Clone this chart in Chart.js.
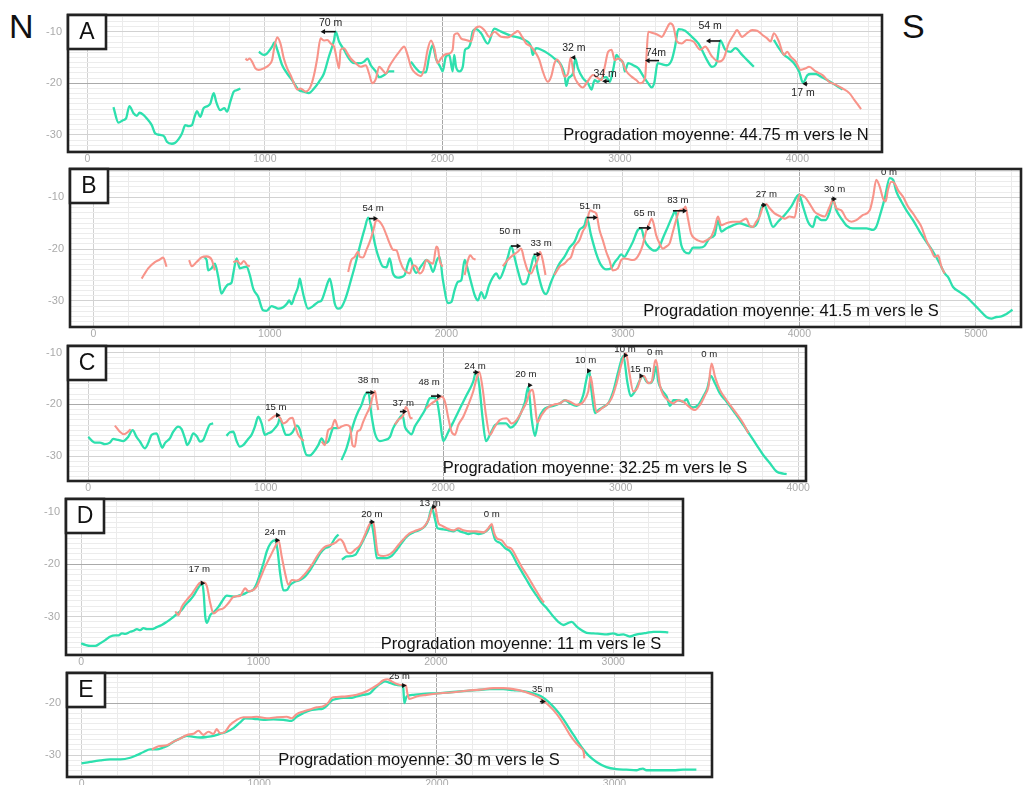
<!DOCTYPE html>
<html><head><meta charset="utf-8">
<script src="https://cdn.jsdelivr.net/npm/chart.js@4.4.1/dist/chart.umd.min.js"></script>
<style>
html,body{margin:0;padding:0;background:#fff;width:1023px;height:785px;overflow:hidden;position:relative;font-family:'Liberation Sans',Arial,sans-serif;}
canvas{position:absolute;left:0;}
.dir{position:absolute;font-size:34px;line-height:34px;color:#111;}
</style></head><body>
<div class="dir" style="left:9px;top:9px">N</div>
<div class="dir" style="left:902px;top:9px">S</div>
<script>
// ---------- DATA (x = distance m, y = depth m; null = gap) ----------
const X_GRID_STEP = 200, X_LABEL_STEP = 1000, Y_GRID_STEP = 1, Y_LABEL_STEP = 10;

const A_GREEN = [[147,-24.6],[175,-27.6],[203,-27.1],[218,-26.8],[237,-24.4],[260,-25.8],[279,-26.3],[294,-25.7],[316,-26.1],[335,-26.8],[363,-28.1],[382,-29.7],[410,-30.0],[433,-30.3],[448,-31.3],[476,-31.7],[495,-31.5],[514,-30.8],[533,-29.7],[552,-28.1],[571,-28.3],[589,-28.1],[604,-26.5],[618,-25.4],[636,-26.5],[655,-24.8],[678,-24.4],[693,-23.9],[712,-21.9],[727,-23.7],[749,-25.2],[772,-24.8],[787,-25.5],[806,-23.5],[825,-21.6],[844,-21.3],[862,-21.0],
null,[966,-13.9],[994,-14.5],[1013,-14.2],[1041,-12.9],[1054,-12.1],[1070,-13.5],[1098,-16.5],[1126,-18.1],[1154,-19.4],[1192,-21.3],[1220,-21.6],[1248,-21.9],[1277,-21.0],[1305,-19.7],[1333,-18.1],[1361,-14.8],[1390,-11.6],[1399,-10.0],[1418,-11.9],[1446,-13.5],[1474,-15.2],[1503,-16.1],[1540,-16.1],[1559,-15.8],[1578,-15.2],[1597,-16.5],[1625,-17.7],[1644,-18.8],[1672,-18.4],[1700,-17.7],[1729,-17.7],
null,[1823,-15.8],[1851,-17.1],[1879,-17.9],[1907,-17.9],[1926,-14.8],[1945,-12.6],[1964,-15.2],[1988,-16.8],[2002,-17.7],[2020,-14.8],[2039,-14.5],[2058,-17.7],[2067,-14.5],[2077,-16.8],[2096,-17.7],[2115,-16.8],[2128,-13.5],[2143,-13.2],[2158,-12.3],[2171,-10.0],[2190,-9.5],[2218,-10.3],[2256,-12.3],[2293,-9.4],[2331,-10.0],[2388,-10.8],[2444,-11.3],[2462,-11.6],[2500,-12.9],[2509,-14.5],[2528,-13.2],[2557,-13.5],[2594,-14.2],[2632,-15.2],[2670,-16.5],[2689,-18.4],[2698,-20.5],[2711,-19.0],[2736,-18.1],[2749,-15.2],[2764,-17.1],[2792,-19.0],[2821,-20.0],[2840,-21.2],[2858,-19.4],[2877,-19.7],[2900,-19.0],[2925,-18.8],[2943,-19.7],[2962,-17.4],[2981,-14.5],[3000,-15.4],[3019,-16.1],[3028,-17.7],[3047,-16.1],[3075,-16.5],[3104,-17.1],[3132,-18.6],[3160,-20.0],[3179,-20.8],[3194,-19.9],[3213,-16.1],[3236,-16.3],[3264,-16.5],[3292,-15.5],[3311,-12.9],[3330,-9.5],[3368,-9.8],[3406,-11.0],[3443,-12.3],[3462,-13.5],[3491,-15.5],[3519,-16.8],[3547,-15.8],[3566,-11.7],[3594,-13.5],[3623,-13.9],[3651,-13.2],[3689,-14.5],[3726,-15.8],[3755,-16.8],
null,[3868,-11.6],[3896,-13.2],[3925,-14.5],[3953,-15.2],[3981,-16.1],[4010,-17.7],[4032,-19.9],[4057,-18.4],[4076,-18.2],[4104,-18.2],[4132,-18.7],[4170,-19.4],[4198,-20.0],[4227,-20.6],[4255,-21.2]];

const A_RED = [[891,-15.2],[900,-15.5],[915,-15.2],[928,-15.8],[947,-17.1],[966,-17.4],[994,-17.1],[1022,-16.5],[1041,-15.5],[1054,-12.9],[1070,-11.1],[1088,-12.3],[1107,-15.2],[1126,-17.1],[1145,-18.4],[1164,-20.0],[1183,-21.2],[1201,-21.0],[1230,-21.6],[1258,-20.6],[1277,-18.4],[1295,-15.2],[1314,-11.3],[1333,-11.7],[1352,-11.6],[1371,-12.3],[1390,-12.9],[1408,-15.8],[1418,-17.1],[1427,-13.5],[1446,-13.2],[1465,-14.2],[1484,-15.2],[1512,-16.1],[1540,-16.8],[1569,-16.5],[1587,-18.1],[1606,-20.0],[1625,-19.2],[1644,-16.8],[1663,-17.4],[1682,-18.1],[1700,-16.8],[1729,-15.2],[1757,-13.9],[1785,-12.9],[1804,-14.5],[1823,-16.8],[1851,-18.1],[1879,-18.6],[1898,-17.1],[1917,-13.5],[1936,-11.7],[1955,-13.2],[1973,-16.1],[1992,-15.2],[2011,-14.5],[2039,-14.2],[2058,-13.5],[2067,-10.6],[2086,-10.3],[2105,-11.3],[2133,-11.6],[2162,-11.9],[2180,-9.7],[2209,-9.0],[2237,-9.7],[2265,-11.0],[2293,-10.0],[2331,-11.0],[2369,-11.1],[2406,-10.3],[2425,-9.9],[2450,-11.0],[2472,-12.3],[2500,-12.9],[2528,-14.2],[2547,-15.5],[2566,-17.7],[2594,-19.7],[2613,-18.7],[2632,-16.1],[2647,-15.4],[2670,-16.8],[2689,-18.7],[2708,-18.1],[2723,-15.0],[2741,-18.4],[2764,-20.0],[2792,-20.8],[2817,-19.7],[2849,-18.4],[2877,-19.0],[2896,-19.4],[2915,-16.8],[2934,-13.9],[2953,-13.5],[2972,-15.5],[2991,-15.2],[3009,-15.5],[3038,-17.7],[3066,-18.7],[3094,-19.4],[3113,-20.0],[3142,-19.0],[3151,-14.2],[3160,-10.0],[3189,-10.3],[3213,-10.6],[3236,-11.0],[3264,-9.4],[3283,-8.4],[3302,-9.0],[3321,-11.9],[3349,-12.3],[3377,-11.6],[3415,-11.9],[3453,-13.5],[3481,-12.9],[3519,-14.8],[3557,-15.8],[3585,-15.2],[3613,-12.3],[3642,-10.6],[3660,-9.7],[3689,-11.0],[3717,-10.3],[3745,-9.7],[3774,-9.8],[3802,-10.6],[3830,-11.3],[3849,-11.9],[3868,-10.3],[3896,-11.9],[3925,-14.5],[3943,-13.9],[3962,-14.8],[3991,-15.8],[4019,-17.4],[4047,-17.1],[4066,-16.8],[4104,-17.7],[4142,-18.4],[4179,-19.7],[4217,-20.3],[4255,-21.0],[4293,-21.9],[4321,-23.2],[4349,-24.5],[4359,-25.0]];

const B_GREEN = [[627,-21.5],[642,-22.1],[651,-24.1],[670,-23.7],[689,-22.8],[708,-25.4],[726,-28.6],[745,-27.6],[764,-26.8],[783,-26.5],[793,-24.7],[812,-21.8],[830,-23.7],[849,-23.5],[868,-23.4],[887,-25.0],[906,-27.6],[934,-29.2],[962,-31.8],[981,-31.9],[1010,-31.0],[1028,-31.2],[1047,-31.5],[1076,-31.2],[1098,-30.5],[1110,-29.9],[1123,-30.6],[1142,-28.9],[1160,-27.3],[1170,-25.7],[1179,-27.0],[1193,-29.2],[1217,-31.5],[1245,-31.0],[1274,-30.2],[1293,-29.9],[1311,-28.3],[1330,-26.3],[1340,-25.7],[1355,-27.9],[1368,-30.5],[1387,-31.5],[1406,-31.2],[1425,-29.9],[1444,-27.9],[1462,-25.7],[1481,-23.4],[1500,-20.8],[1519,-18.3],[1538,-16.0],[1557,-13.9],[1576,-15.7],[1595,-18.9],[1613,-21.2],[1642,-23.4],[1661,-23.5],[1679,-21.8],[1698,-24.7],[1727,-25.5],[1745,-25.4],[1764,-25.0],[1783,-22.8],[1796,-21.8],[1812,-23.5],[1830,-24.6],[1849,-23.7],[1868,-22.8],[1887,-22.1],[1906,-22.8],[1925,-24.4],[1947,-22.1],[1962,-21.5],[1981,-26.0],[2010,-30.4],[2029,-30.2],[2047,-27.9],[2066,-26.3],[2085,-26.0],[2104,-22.1],[2123,-24.1],[2142,-26.6],[2161,-28.9],[2179,-29.9],[2198,-28.3],[2217,-29.5],[2242,-27.0],[2264,-25.4],[2283,-24.7],[2302,-25.7],[2325,-24.1],[2349,-21.5],[2368,-19.4],[2386,-21.5],[2405,-24.1],[2433,-26.8],[2452,-26.6],[2480,-23.4],[2499,-21.2],[2518,-24.4],[2546,-27.9],[2565,-28.7],[2594,-26.3],[2622,-24.1],[2641,-22.8],[2669,-21.5],[2698,-19.7],[2726,-18.6],[2754,-16.3],[2783,-15.4],[2796,-13.9],[2820,-17.3],[2849,-20.8],[2877,-23.1],[2906,-23.9],[2934,-23.7],[2953,-22.6],[2972,-21.8],[2991,-21.0],[3009,-21.5],[3028,-20.5],[3057,-18.6],[3085,-16.3],[3104,-16.0],[3123,-18.3],[3151,-19.7],[3180,-20.3],[3208,-19.5],[3227,-17.9],[3255,-15.7],[3284,-13.4],[3297,-12.6],[3312,-15.0],[3331,-19.2],[3350,-20.5],[3374,-20.8],[3398,-19.7],[3416,-19.7],[3435,-19.7],[3463,-19.4],[3491,-17.9],[3520,-17.3],[3539,-14.5],[3558,-16.6],[3586,-16.0],[3624,-15.4],[3662,-15.0],[3699,-15.4],[3737,-15.7],[3765,-14.7],[3784,-12.1],[3799,-11.3],[3822,-13.1],[3851,-15.7],[3879,-14.7],[3917,-13.4],[3954,-11.8],[3998,-9.5],[4021,-11.8],[4049,-14.7],[4077,-15.7],[4096,-13.7],[4125,-14.4],[4149,-14.4],[4172,-12.8],[4191,-10.4],[4210,-12.5],[4238,-14.1],[4266,-15.4],[4304,-16.0],[4342,-16.0],[4380,-16.0],[4418,-16.3],[4436,-15.7],[4455,-13.7],[4484,-10.2],[4512,-6.3],[4531,-6.6],[4550,-8.9],[4578,-10.8],[4607,-12.5],[4644,-14.4],[4682,-16.6],[4720,-18.6],[4758,-20.5],[4796,-22.8],[4824,-24.7],[4843,-25.4],[4871,-27.3],[4909,-28.3],[4947,-29.2],[4985,-30.5],[5022,-31.8],[5060,-33.1],[5088,-33.4],[5117,-33.1],[5145,-33.0],[5174,-32.5],[5208,-31.7]];

const B_RED = [[274,-25.7],[311,-23.7],[349,-22.5],[377,-22.0],[396,-21.6],[415,-23.4],
null,[543,-22.1],[557,-23.3],[585,-22.5],[613,-21.6],[642,-21.4],[670,-22.0],[689,-24.1],
null,[793,-22.5],[815,-22.3],[834,-22.9],[853,-22.3],[872,-23.1],[887,-23.3],
null,[1444,-24.4],[1462,-22.1],[1481,-21.5],[1500,-20.5],[1510,-21.5],[1528,-21.6],[1547,-20.2],[1566,-18.6],[1585,-16.6],[1604,-14.4],[1623,-14.7],[1642,-15.7],[1661,-17.3],[1679,-18.9],[1698,-20.1],[1717,-20.2],[1736,-22.1],[1755,-23.7],[1774,-24.4],[1793,-24.7],[1812,-23.1],[1830,-23.4],[1849,-24.7],[1868,-24.1],[1887,-22.1],[1906,-22.5],[1925,-22.8],[1944,-19.5],[1953,-19.9],[1962,-22.1],[1978,-23.4],
null,[2104,-25.0],[2123,-22.1],[2136,-21.2],[2151,-21.8],[2166,-22.0],
null,[2320,-23.3],[2348,-22.1],[2376,-21.2],[2405,-20.5],[2424,-19.9],[2442,-22.1],[2461,-24.1],[2480,-24.7],[2499,-23.4],[2518,-22.1],[2531,-20.5],[2546,-22.1],[2562,-25.0],
null,[2613,-25.0],[2641,-23.4],[2669,-22.8],[2688,-22.1],[2707,-21.5],[2726,-19.5],[2754,-18.3],[2773,-16.6],[2792,-15.4],[2815,-12.5],[2834,-12.8],[2849,-13.1],[2868,-16.3],[2887,-18.3],[2906,-20.5],[2924,-22.1],[2943,-24.1],[2972,-23.7],[2991,-22.1],[3009,-21.8],[3038,-22.0],[3057,-22.1],[3076,-21.8],[3095,-20.8],[3113,-19.2],[3132,-16.6],[3151,-15.0],[3163,-14.1],[3174,-15.0],[3189,-17.3],[3208,-18.9],[3227,-19.9],[3246,-19.5],[3265,-18.9],[3284,-16.6],[3302,-14.4],[3321,-12.5],[3344,-12.3],[3355,-11.8],[3369,-14.1],[3387,-17.0],[3406,-17.9],[3425,-18.3],[3454,-18.6],[3473,-18.3],[3501,-17.6],[3520,-16.0],[3539,-13.7],[3558,-15.4],[3586,-15.0],[3624,-14.7],[3662,-14.7],[3699,-14.1],[3718,-15.4],[3737,-15.7],[3756,-14.7],[3775,-13.7],[3794,-11.8],[3813,-11.3],[3832,-12.1],[3860,-13.1],[3888,-13.6],[3917,-14.1],[3945,-13.7],[3973,-13.9],[3992,-10.5],[4002,-9.5],[4030,-9.9],[4058,-11.2],[4087,-12.8],[4115,-13.4],[4143,-13.7],[4172,-11.8],[4191,-10.5],[4210,-12.1],[4238,-12.5],[4266,-14.1],[4295,-14.7],[4323,-14.4],[4361,-13.4],[4399,-12.5],[4418,-9.9],[4436,-6.6],[4455,-7.9],[4474,-10.2],[4489,-10.8],[4502,-8.6],[4521,-7.0],[4540,-7.3],[4559,-8.6],[4588,-9.9],[4616,-11.8],[4644,-13.1],[4663,-14.1],[4692,-15.7],[4720,-18.3],[4748,-20.2],[4767,-21.5],[4786,-21.2],[4805,-23.4],[4824,-24.7]];

const C_GREEN = [[0,-26.3],[38,-27.4],[66,-27.4],[94,-27.7],[122,-27.4],[141,-26.7],[169,-26.9],[197,-27.1],[225,-26.3],[250,-25.0],[272,-26.3],[291,-27.2],[319,-28.5],[338,-27.5],[357,-25.9],[385,-25.6],[404,-27.4],[417,-28.4],[432,-27.5],[460,-26.6],[479,-25.3],[507,-24.3],[526,-24.8],[545,-26.6],[558,-27.9],[573,-27.1],[592,-25.6],[614,-26.3],[629,-27.2],[648,-26.9],[667,-25.3],[685,-23.9],[704,-23.7],
null,[779,-26.1],[798,-25.4],[817,-25.3],[836,-27.1],[854,-28.2],[873,-27.9],[901,-26.7],[920,-25.9],[939,-24.3],[958,-22.4],[977,-23.7],[995,-25.9],[1014,-25.6],[1033,-25.3],[1052,-24.6],[1070,-23.7],[1080,-22.6],[1095,-24.3],[1114,-25.9],[1132,-25.9],[1151,-25.4],[1174,-24.1],[1193,-25.0],[1211,-27.9],[1230,-29.8],[1249,-29.9],[1271,-29.2],[1296,-27.9],[1315,-26.6],[1333,-27.5],[1352,-27.2],[1371,-25.3],[1380,-24.6],[1409,-24.6],
null,[1427,-30.8],[1455,-28.5],[1484,-25.0],[1502,-23.0],[1521,-21.4],[1540,-20.1],[1559,-18.2],[1578,-17.7],[1596,-22.1],[1615,-25.6],[1643,-27.1],[1671,-26.9],[1700,-26.3],[1718,-24.6],[1747,-23.0],[1771,-22.1],[1784,-24.3],[1803,-25.3],[1822,-25.8],[1840,-24.3],[1869,-22.7],[1897,-21.1],[1925,-18.8],[1944,-18.7],[1966,-19.5],[1981,-22.7],[2000,-27.1],[2029,-25.3],[2057,-23.4],[2094,-20.8],[2132,-18.2],[2169,-15.6],[2185,-13.7],[2203,-16.3],[2222,-22.7],[2241,-27.1],[2263,-25.9],[2292,-24.0],[2320,-23.7],[2354,-23.7],[2380,-24.5],[2404,-23.9],[2432,-22.1],[2461,-19.5],[2479,-16.6],[2498,-22.7],[2517,-26.1],[2536,-23.0],[2564,-21.1],[2592,-20.5],[2620,-20.3],[2658,-19.8],[2686,-19.2],[2714,-19.8],[2752,-20.3],[2789,-18.2],[2808,-15.0],[2823,-13.5],[2836,-17.5],[2855,-21.7],[2874,-21.1],[2902,-20.5],[2930,-19.8],[2958,-17.5],[2986,-13.7],[3015,-10.6],[3037,-15.6],[3056,-18.4],[3080,-17.5],[3108,-15.3],[3124,-14.5],[3146,-15.6],[3165,-15.9],[3184,-15.0],[3199,-12.7],[3212,-15.6],[3231,-17.2],[3259,-18.5],[3278,-20.3],[3296,-19.2],[3324,-19.2],[3353,-19.5],[3371,-19.0],[3390,-20.3],[3409,-20.6],[3437,-20.1],[3465,-18.5],[3488,-16.9],[3507,-14.5],[3531,-15.9],[3559,-17.9],[3597,-19.5],[3644,-21.7],[3691,-24.0],[3728,-25.9],[3766,-27.9],[3803,-29.8],[3841,-31.4],[3878,-33.0],[3916,-33.4],[3935,-33.5]];

const C_RED = [[150,-24.1],[178,-25.3],[201,-25.8],[225,-25.3],[239,-24.8],
null,[1014,-23.2],[1033,-22.7],[1061,-22.1],[1080,-22.6],[1099,-23.7],[1117,-23.4],[1136,-22.7],[1151,-22.6],[1164,-24.0],[1183,-25.9],[1202,-26.7],[1215,-27.1],
null,[1315,-27.2],[1333,-27.9],[1352,-25.0],[1371,-24.6],[1390,-23.0],[1409,-24.6],[1427,-24.3],[1455,-24.0],[1474,-24.3],[1489,-27.9],[1502,-28.2],[1516,-25.3],[1531,-25.0],[1549,-23.4],[1568,-21.9],[1587,-20.5],[1602,-18.5],[1615,-17.4],[1624,-19.2],[1634,-21.1],
null,[1728,-23.9],[1747,-23.0],[1775,-22.1],[1790,-20.5],[1803,-21.3],[1816,-22.7],[1827,-22.6],
null,[1903,-20.8],[1935,-19.8],[1963,-19.2],[1991,-18.5],[2010,-19.5],[2029,-22.7],[2047,-25.3],[2066,-25.9],[2085,-24.0],[2113,-22.4],[2141,-20.1],[2169,-17.5],[2188,-15.0],[2203,-13.7],[2222,-16.9],[2241,-22.1],[2263,-25.9],[2286,-24.6],[2320,-23.0],[2357,-22.7],[2385,-23.7],[2414,-23.0],[2442,-21.4],[2470,-19.5],[2489,-17.5],[2504,-17.2],[2517,-20.1],[2530,-23.5],[2554,-22.1],[2583,-20.8],[2620,-20.1],[2658,-19.8],[2686,-19.2],[2714,-19.5],[2752,-20.1],[2789,-19.5],[2817,-17.5],[2831,-14.6],[2846,-17.9],[2864,-21.5],[2893,-20.8],[2921,-20.1],[2949,-18.8],[2977,-15.9],[3005,-12.1],[3030,-10.1],[3048,-13.7],[3071,-17.5],[3093,-16.9],[3118,-14.6],[3131,-14.5],[3155,-15.9],[3174,-15.6],[3193,-11.7],[3199,-11.4],[3221,-16.3],[3240,-18.2],[3268,-19.2],[3296,-19.8],[3324,-19.2],[3353,-19.5],[3390,-20.6],[3418,-21.1],[3447,-20.1],[3475,-18.2],[3494,-16.6],[3512,-12.1],[3531,-14.6],[3559,-17.2],[3597,-19.2],[3644,-21.4],[3691,-23.7],[3719,-25.6]];

const D_GREEN = [[0,-35.1],[24,-35.4],[52,-35.6],[80,-35.6],[108,-35.1],[136,-34.5],[165,-33.8],[193,-33.6],[211,-33.6],[230,-33.2],[249,-33.3],[277,-32.9],[296,-32.7],[315,-32.4],[333,-32.6],[352,-32.2],[371,-32.4],[399,-32.4],[427,-32.0],[455,-31.6],[483,-31.0],[512,-30.3],[540,-29.5],[568,-28.7],[587,-27.8],[615,-26.8],[634,-26.0],[653,-24.9],[672,-23.9],[682,-23.5],[691,-25.5],[700,-30.0],[709,-31.2],[728,-29.7],[747,-29.2],[775,-28.1],[794,-27.1],[822,-26.0],[860,-26.2],[888,-26.0],[916,-25.7],[944,-25.2],[972,-24.8],[991,-23.6],[1010,-21.7],[1028,-19.8],[1047,-17.5],[1070,-15.9],[1094,-15.4],[1107,-17.2],[1122,-21.7],[1141,-25.0],[1160,-24.9],[1179,-23.9],[1207,-23.3],[1235,-23.0],[1263,-22.3],[1291,-21.1],[1320,-19.5],[1348,-17.9],[1376,-16.9],[1404,-16.5],[1432,-15.0],[1451,-14.3],
null,[1470,-19.1],[1498,-18.5],[1507,-18.5],[1545,-18.2],[1573,-16.6],[1601,-14.7],[1620,-13.3],[1633,-12.1],[1644,-13.1],[1657,-16.3],[1667,-18.8],[1695,-18.8],[1723,-18.8],[1751,-18.4],[1780,-17.2],[1808,-15.9],[1836,-14.7],[1873,-13.9],[1911,-13.4],[1939,-12.7],[1958,-11.5],[1977,-9.2],[1996,-11.5],[2009,-13.1],[2042,-13.3],[2071,-13.5],[2099,-13.7],[2118,-13.4],[2136,-13.7],[2165,-14.0],[2183,-14.2],[2212,-14.0],[2240,-14.2],[2268,-14.0],[2296,-13.3],[2309,-12.6],[2320,-13.7],[2334,-15.3],[2362,-15.9],[2390,-16.9],[2418,-17.5],[2437,-18.5],[2456,-19.8],[2484,-21.4],[2512,-23.0],[2540,-24.6],[2568,-26.0],[2597,-27.4],[2625,-28.4],[2662,-30.0],[2690,-31.0],[2719,-31.6],[2747,-31.2],[2765,-31.0],[2794,-31.9],[2822,-32.6],[2850,-33.1],[2888,-33.2],[2925,-33.3],[2963,-33.4],[3000,-33.2],[3028,-33.5],[3057,-33.4],[3075,-33.6],[3094,-33.8],[3122,-33.5],[3151,-33.3],[3188,-33.1],[3226,-32.9],[3263,-32.9],[3310,-33.0]];

const D_RED = [[531,-29.0],[549,-29.7],[568,-28.1],[596,-26.8],[624,-25.7],[653,-24.2],[672,-23.5],[694,-23.5],[709,-24.2],[728,-27.4],[747,-29.4],[775,-28.7],[803,-28.4],[831,-27.4],[860,-26.2],[897,-26.0],[925,-24.6],[944,-25.2],[972,-24.9],[991,-24.2],[1010,-22.7],[1038,-20.4],[1066,-18.5],[1094,-16.6],[1113,-15.4],[1131,-18.5],[1150,-21.7],[1169,-23.9],[1188,-23.0],[1216,-23.1],[1244,-22.5],[1273,-21.4],[1301,-20.1],[1329,-18.5],[1357,-17.2],[1376,-16.6],[1404,-16.3],[1432,-15.9],[1460,-15.2],[1479,-15.9],[1498,-17.5],[1517,-17.9],[1545,-17.2],[1573,-16.3],[1601,-14.3],[1620,-12.7],[1639,-12.0],[1648,-12.1],[1657,-14.0],[1667,-16.9],[1676,-18.2],[1704,-18.4],[1733,-18.2],[1761,-17.5],[1789,-16.3],[1817,-15.2],[1855,-14.0],[1892,-13.5],[1930,-12.9],[1958,-11.5],[1986,-9.0],[1996,-9.2],[2014,-12.1],[2033,-12.6],[2061,-13.1],[2099,-13.5],[2127,-13.1],[2155,-13.5],[2193,-13.7],[2230,-13.7],[2268,-13.9],[2296,-13.1],[2315,-12.3],[2328,-14.0],[2343,-15.0],[2371,-15.4],[2399,-16.6],[2428,-17.1],[2456,-18.8],[2484,-20.5],[2512,-22.0],[2540,-23.6],[2568,-25.2],[2597,-26.8],[2610,-27.3]];

const E_GREEN = [[0,-31.6],[49,-31.3],[105,-31.0],[161,-30.8],[218,-30.8],[274,-30.5],[311,-30.0],[349,-29.4],[386,-28.9],[424,-28.9],[461,-28.5],[489,-28.1],[518,-27.4],[555,-26.8],[593,-26.3],[630,-26.5],[668,-26.6],[705,-26.5],[743,-26.3],[780,-25.9],[818,-25.5],[855,-24.8],[893,-23.7],[921,-22.9],[968,-23.0],[1024,-23.2],[1080,-23.1],[1136,-23.2],[1183,-23.4],[1211,-22.6],[1249,-21.9],[1286,-21.4],[1324,-21.2],[1361,-21.0],[1389,-20.2],[1408,-19.5],[1436,-19.2],[1474,-19.0],[1511,-19.0],[1549,-18.7],[1586,-18.4],[1624,-18.1],[1652,-17.1],[1680,-16.3],[1708,-15.8],[1736,-16.1],[1774,-16.5],[1802,-16.6],[1811,-17.1],[1817,-20.0],[1830,-18.7],[1868,-18.4],[1924,-18.2],[1999,-18.1],[2074,-17.9],[2149,-17.7],[2224,-17.5],[2299,-17.3],[2374,-17.3],[2430,-17.5],[2486,-17.7],[2542,-18.1],[2589,-18.7],[2627,-19.7],[2664,-21.0],[2702,-22.6],[2739,-24.5],[2777,-26.5],[2814,-28.4],[2852,-30.0],[2899,-31.3],[2955,-32.3],[3011,-32.7],[3067,-32.8],[3124,-32.9],[3142,-32.7],[3160,-32.6],[3180,-32.9],[3255,-32.9],[3330,-32.9],[3386,-32.8],[3461,-32.8]];

const E_RED = [[396,-28.9],[433,-28.3],[480,-28.1],[518,-27.4],[555,-26.8],[593,-26.1],[630,-25.9],[658,-25.3],[686,-26.1],[714,-25.5],[743,-25.9],[761,-25.0],[780,-25.8],[808,-25.5],[836,-24.2],[874,-23.2],[911,-22.7],[949,-22.7],[986,-22.6],[1043,-22.9],[1099,-22.7],[1155,-22.6],[1183,-22.9],[1211,-22.1],[1249,-21.6],[1286,-21.2],[1324,-20.8],[1361,-20.6],[1389,-19.9],[1408,-19.0],[1436,-18.8],[1493,-18.7],[1549,-18.4],[1605,-17.7],[1661,-16.6],[1699,-15.6],[1721,-15.4],[1746,-15.8],[1774,-16.3],[1802,-16.5],[1826,-16.6],[1834,-18.1],[1845,-19.2],[1886,-18.7],[1942,-18.4],[2018,-18.1],[2093,-17.9],[2168,-17.6],[2243,-17.4],[2318,-17.1],[2374,-17.1],[2430,-17.3],[2486,-17.7],[2542,-18.4],[2580,-19.0],[2617,-20.0],[2655,-21.3],[2692,-22.9],[2721,-24.5],[2749,-26.1],[2777,-27.4],[2796,-28.1],[2814,-28.7],[2827,-29.5],[2830,-30.6]];

// shift arrows: [from x, to x, depth, label, label x, label depth]
const A_ARROWS = [[1399,1314,-10,'70 m',1371,-8.3],[2749,2723,-15.0,'32 m',2741,-13.2],[2940,2900,-19.6,'34 m',2917,-18.3],[3221,3142,-15.6,'74m',3203,-14.1],[3566,3485,-11.8,'54 m',3509,-9.0],[4057,4028,-20.1,'17 m',4032,-21.8]];
const B_ARROWS = [[1562,1613,-14.1,'54 m',1585,-12.1],[2367,2424,-19.4,'50 m',2361,-16.5],[2495,2537,-21.0,'33 m',2537,-18.9],[2796,2858,-13.9,'51 m',2815,-11.7],[3091,3163,-15.9,'65 m',3123,-13.0],[3284,3365,-12.6,'83 m',3312,-10.5],[3784,3816,-11.5,'27 m',3813,-9.5],[4181,4213,-10.3,'30 m',4200,-8.5],[4508,4508,-6.3,'0 m',4508,-5.2]];
const C_ARROWS = [[1057,1084,-22.1,'15 m',1057,-20.5],[1564,1615,-17.7,'38 m',1578,-15.4],[1756,1797,-21.4,'37 m',1775,-19.9],[1931,1991,-18.4,'48 m',1921,-15.8],[2169,2203,-13.8,'24 m',2179,-12.7],[2479,2504,-16.3,'20 m',2466,-14.2],[2817,2836,-13.5,'10 m',2802,-11.4],[3018,3043,-10.5,'10 m',3024,-9.3],[3112,3131,-14.5,'15 m',3112,-13.2],[3199,3199,-11.4,'0 m',3193,-9.9],[3512,3512,-12.1,'0 m',3499,-10.3]];
const D_ARROWS = [[677,700,-23.6,'17 m',666,-20.9],[1094,1122,-15.4,'24 m',1094,-13.8],[1626,1657,-11.9,'20 m',1639,-10.5],[1977,2005,-9.0,'13 m',1967,-8.3],[2315,2315,-12.3,'0 m',2315,-10.5]];
const E_ARROWS = [[1802,1830,-16.6,'25 m',1789,-14.8],[2580,2614,-19.7,'35 m',2595,-17.3]];

const LETTERS = ['A','B','C','D','E'];
const TEXTS = ['Progradation moyenne: 44.75 m vers le N','Progradation moyenne: 41.5 m vers le S','Progradation moyenne: 32.25 m vers le S','Progradation moyenne: 11 m vers le S','Progradation moyenne: 30 m vers le S'];
const X_RANGES = [[-109,4477],[-132,5256],[-114,4044],[-85,3393],[-82,3549]];
const Y_RANGES = [[-33.3,-6.77],[-35.03,-4.53],[-34.84,-8.7],[-37.34,-7.51],[-34.2,-14.2]];

// ---------- LAYOUT ----------
const FONT = "'Liberation Sans', Arial, sans-serif";
Chart.defaults.font.family = FONT;
// area: [left, top, right, bottom] of plot box; ctop: canvas top; axh: x-axis band height
const PANELS = [
  {area:[68,15,882,152], ctop:10, axh:15, darkX:2000, darkY:-20, green:A_GREEN, red:A_RED, ann:A_ARROWS, tcx:648, tdy:17, annFont:10.5},
  {area:[70,169,1021,327], ctop:167, axh:15, darkX:4000, darkY:null, green:B_GREEN, red:B_RED, ann:B_ARROWS, tcx:721, tdy:16, annFont:9.6},
  {area:[68,346,806,481], ctop:342, axh:15, darkX:2000, darkY:-20, green:C_GREEN, red:C_RED, ann:C_ARROWS, tcx:527, tdy:13, annFont:9.6},
  {area:[66,499,683,655], ctop:496, axh:15, darkX:2000, darkY:-20, green:D_GREEN, red:D_RED, ann:D_ARROWS, tcx:455, tdy:11, annFont:9.6},
  {area:[67,673,712,777], ctop:670, axh:15, darkX:2000, darkY:-20, green:E_GREEN, red:E_RED, ann:E_ARROWS, tcx:352, tdy:17, annFont:9.4}
];

function toPts(arr){
  const out=[]; let lx=0;
  for(const p of arr){
    if(p===null){ out.push({x:lx+0.001,y:null}); }
    else { out.push({x:p[0],y:p[1]}); lx=p[0]; }
  }
  return out;
}
function gridTicks(scale, step){
  const t=[];
  for(let k=Math.ceil(scale.min/step); k*step<=scale.max; k++) t.push({value:k*step});
  scale.ticks=t;
}
function zeroPad(s){ s.paddingTop=0; s.paddingBottom=0; s.paddingLeft=0; s.paddingRight=0; }

function makeDecor(p, letter, text){
  return {
    id:'decor'+letter,
    afterDatasetsDraw(chart){
      const {ctx, chartArea:ca, scales:{x,y}} = chart;
      ctx.save();
      p.ann.forEach(a=>{
        const [x1,x2,yv,txt,lx,ly]=a;
        const px1=x.getPixelForValue(x1), px2=x.getPixelForValue(x2), py=y.getPixelForValue(yv);
        ctx.strokeStyle='#111'; ctx.fillStyle='#111'; ctx.lineWidth=1.6;
        if(Math.abs(px2-px1)>0.5){
          const d=Math.sign(px2-px1);
          ctx.beginPath(); ctx.moveTo(px1,py); ctx.lineTo(px2-d*3,py); ctx.stroke();
          ctx.beginPath(); ctx.moveTo(px2,py); ctx.lineTo(px2-d*4.5,py-2.6); ctx.lineTo(px2-d*4.5,py+2.6); ctx.closePath(); ctx.fill();
        }
        ctx.font=p.annFont+'px '+FONT; ctx.fillStyle='#222';
        ctx.textAlign='center'; ctx.textBaseline='middle';
        ctx.fillText(txt, x.getPixelForValue(lx), y.getPixelForValue(ly));
      });
      ctx.font='16.5px '+FONT; ctx.fillStyle='#111'; ctx.textAlign='center'; ctx.textBaseline='middle';
      ctx.fillText(text, ca.left+p.tcx, ca.bottom-p.tdy);
      ctx.lineWidth=2.6; ctx.strokeStyle='#222';
      ctx.strokeRect(ca.left, ca.top, ca.right-ca.left, ca.bottom-ca.top);
      ctx.fillStyle='#fff'; ctx.fillRect(ca.left, ca.top, 38, 34);
      ctx.strokeRect(ca.left, ca.top, 38, 34);
      ctx.fillStyle='#111'; ctx.font='23px '+FONT;
      ctx.fillText(letter, ca.left+19, ca.top+18);
      ctx.restore();
    }
  };
}

PANELS.forEach((p,i)=>{
  const [L,T,R,B]=p.area;
  const W=Math.min(1023,R+10), padTop=T-p.ctop, H=padTop+(B-T)+p.axh;
  const cv=document.createElement('canvas');
  cv.width=W; cv.height=H; cv.style.width=W+'px'; cv.style.height=H+'px';
  cv.style.top=p.ctop+'px';
  document.body.appendChild(cv);
  const gx=(c)=>{const v=Math.round(c.tick.value); if(v===p.darkX) return '#a6a6a6'; if(v%X_LABEL_STEP===0) return '#d2d2d2'; return '#ebebeb';};
  const gy=(c)=>{const v=Math.round(c.tick.value); if(p.darkY!==null && v===p.darkY) return '#aaaaaa'; if(v%Y_LABEL_STEP===0) return '#d2d2d2'; return '#ececec';};
  new Chart(cv.getContext('2d'),{
    type:'line',
    data:{datasets:[
      {label:'red', data:toPts(p.red), borderColor:'#f8948a', borderWidth:2.1, pointRadius:0, cubicInterpolationMode:'monotone', spanGaps:false, order:0},
      {label:'green', data:toPts(p.green), borderColor:'#2de0ae', borderWidth:2.3, pointRadius:0, cubicInterpolationMode:'monotone', spanGaps:false, order:1}
    ]},
    options:{
      responsive:false, animation:false, devicePixelRatio:1,
      layout:{autoPadding:false, padding:{top:padTop,right:W-R,left:0,bottom:0}},
      plugins:{legend:{display:false}, tooltip:{enabled:false}},
      scales:{
        x:{type:'linear', min:X_RANGES[i][0], max:X_RANGES[i][1],
           afterBuildTicks:(s)=>gridTicks(s, X_GRID_STEP),
           afterFit:(s)=>{s.height=p.axh; zeroPad(s);},
           border:{display:false},
           grid:{color:gx, lineWidth:1, drawTicks:false},
           ticks:{autoSkip:false, maxRotation:0, minRotation:0, padding:1, color:'#aaaaaa', font:{size:10.5},
             callback:(v)=>{const r=Math.round(v); return r%X_LABEL_STEP===0?String(r):'';}}},
        y:{type:'linear', min:Y_RANGES[i][0], max:Y_RANGES[i][1],
           afterBuildTicks:(s)=>gridTicks(s, Y_GRID_STEP),
           afterFit:(s)=>{s.width=L; zeroPad(s);},
           border:{display:false},
           grid:{color:gy, lineWidth:1, drawTicks:false},
           ticks:{autoSkip:false, padding:6, color:'#aaaaaa', font:{size:11},
             callback:(v)=>{const r=Math.round(v); return r%Y_LABEL_STEP===0?String(r):'';}}}
      }
    },
    plugins:[makeDecor(p, LETTERS[i], TEXTS[i])]
  });
});
</script>
</body></html>
